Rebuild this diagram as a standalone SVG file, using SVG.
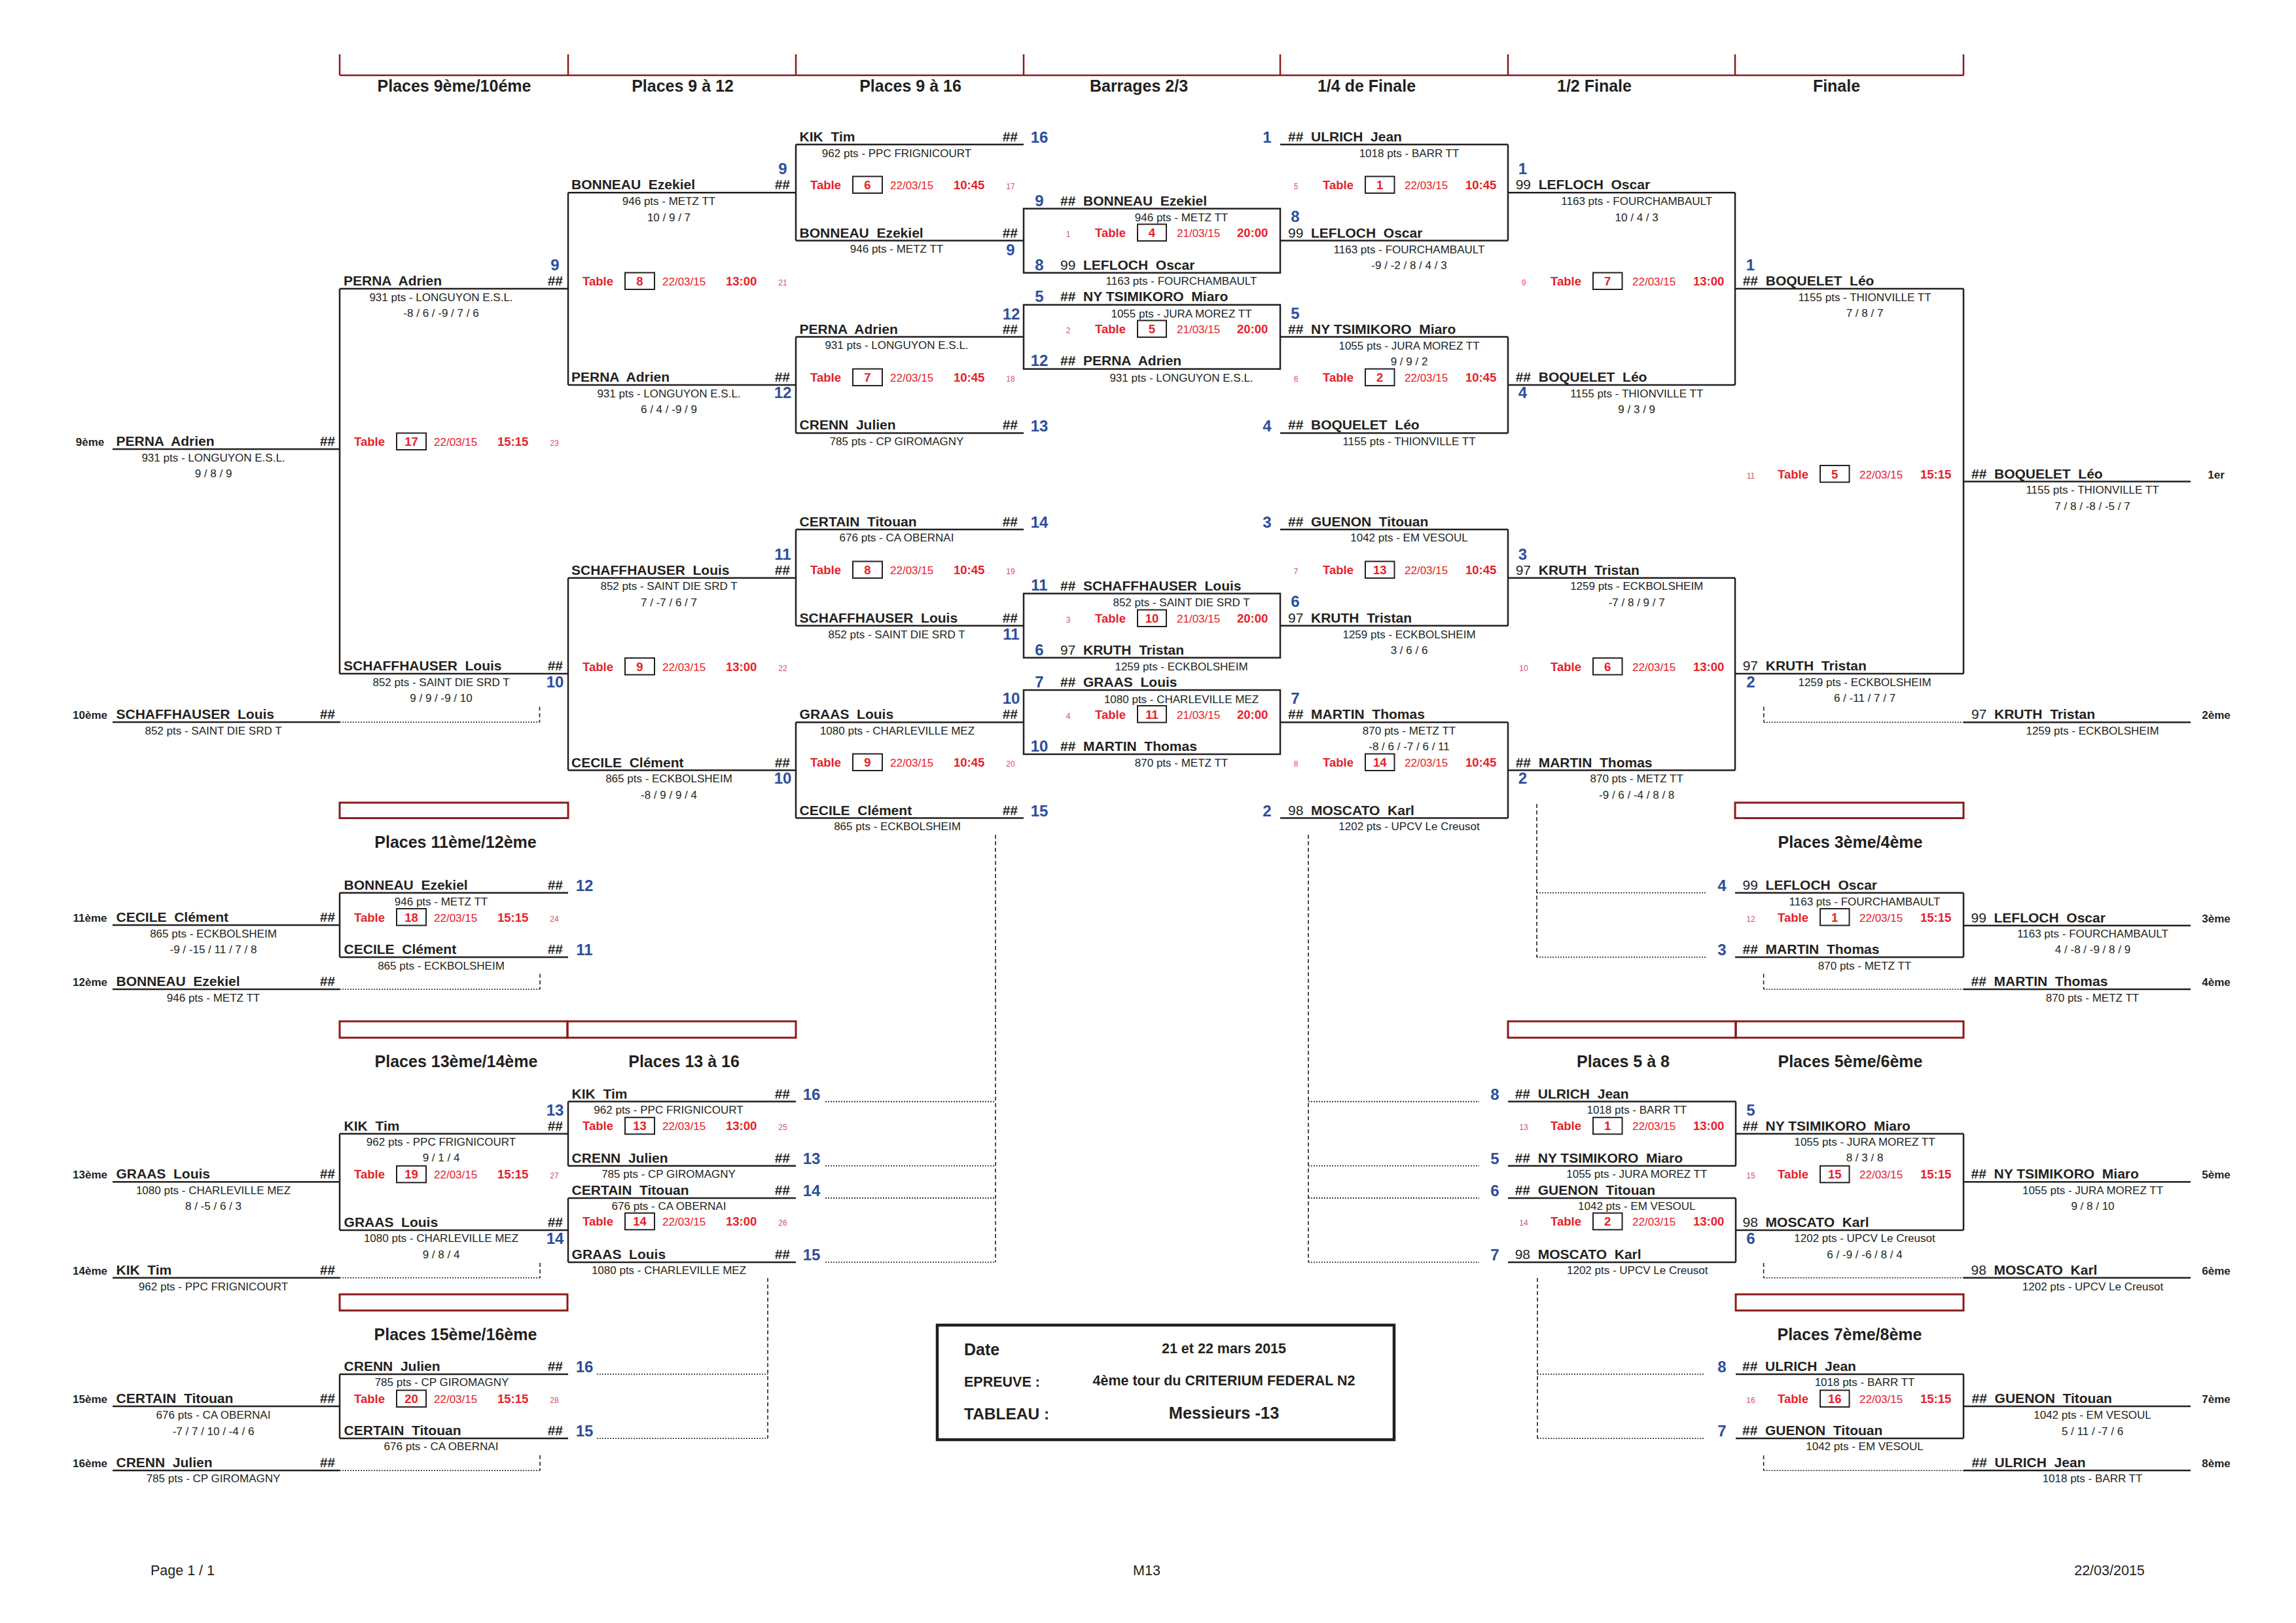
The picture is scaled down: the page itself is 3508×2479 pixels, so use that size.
<svg xmlns="http://www.w3.org/2000/svg" width="3508" height="2479" viewBox="0 0 3508 2479" xml:space="preserve">
<style>
text{font-family:"Liberation Sans",Arial,sans-serif;fill:#231f20;white-space:pre}
.n{font-size:21px;font-weight:bold}
.r{font-weight:normal}
.s{font-size:17px;text-anchor:middle}
.tl{font-size:18.5px;font-weight:bold;fill:#e62129}
.tn{font-size:18.5px;font-weight:bold;fill:#e62129;text-anchor:middle}
.dt{font-size:17px;fill:#e62129}
.hr{font-size:18.5px;font-weight:bold;fill:#e62129}
.mn{font-size:12px;fill:#d4506a;text-anchor:middle}
.bn{font-size:24px;font-weight:bold;fill:#2d4e9c;text-anchor:middle}
.hh{font-size:21px;font-weight:bold;text-anchor:end}
.pl{font-size:17px;font-weight:bold;text-anchor:middle}
.ti{font-size:25px;font-weight:bold;text-anchor:middle}
.ib{font-size:21.5px;font-weight:bold}
.ft{font-size:21.5px}
.ln{stroke:#231f20;stroke-width:2.5;fill:none}
.dot{stroke:#231f20;stroke-width:1.6;stroke-dasharray:2 2;fill:none}
.dsh{stroke:#231f20;stroke-width:1.6;stroke-dasharray:6 4;fill:none}
.rb{stroke:#8b1a1a;stroke-width:3;fill:none}
.hdr{stroke:#8b1a1a;stroke-width:2.5;fill:none}
.tb{stroke:#231f20;stroke-width:2;fill:#fff}
</style>
<rect x="0" y="0" width="3508" height="2479" fill="#fff"/>

<g id="connectors">
<path class="hdr" d="M519 115H3000M519 83V115M868 83V115M1216 83V115M1564 83V115M1956 83V115M2304 83V115M2651 83V115M3000 83V115"/>
<path class="ln" d="M519 441H868M519 1029H868M519 441V1029M172 686H519M172 1103H519
M868 294.2H1216M868 588H1216M868 294.2V588M868 882.7H1216M868 1176.5H1216M868 882.7V1176.5
M1216 220.8H1564M1216 367.6H1564M1216 220.8V367.6M1216 514.5H1564M1216 661.4H1564M1216 514.5V661.4M1216 808.7H1564M1216 955.8H1564M1216 808.7V955.8M1216 1103.3H1564M1216 1249.6H1564M1216 1103.3V1249.6
M1956 220.8H2304M1956 367.6H2304M2304 220.8V367.6M1956 514.5H2304M1956 661.4H2304M2304 514.5V661.4M1956 808.7H2304M1956 955.8H2304M2304 808.7V955.8M1956 1103.3H2304M1956 1249.6H2304M2304 1103.3V1249.6
M2304 294.2H2651M2304 588H2651M2651 294.2V588M2304 882.7H2651M2304 1176.5H2651M2651 882.7V1176.5
M2651 441H3000M2651 1029H3000M3000 441V1029M3000 735.6H3347M3000 1103.3H3347
M519 1363.8H868M519 1462H868M519 1363.8V1462M172 1413H519M172 1511H519
M2651 1363.8H3000M2651 1462H3000M3000 1363.8V1462M3000 1413.8H3347M3000 1511H3347
M868 1682.6H1216M868 1780.8H1216M868 1682.6V1780.8M868 1829.9H1216M868 1928H1216M868 1829.9V1928
M519 1731.7H868M519 1879H868M519 1731.7V1879M172 1805.3H519M172 1951.7H519
M2304 1682.6H2652M2304 1780.8H2652M2652 1682.6V1780.8M2304 1829.9H2652M2304 1928H2652M2652 1829.9V1928
M2652 1731.7H3000M2652 1879H3000M3000 1731.7V1879M3000 1805.3H3347M3000 1951.7H3347
M519 2099H868M519 2197H868M519 2099V2197M172 2148H519M172 2246H519
M2652 2099H3000M2652 2197H3000M3000 2099V2197M3000 2148H3347M3000 2246H3347"/>
<rect class="ln" x="1564" y="318.7" width="392" height="98"/>
<rect class="ln" x="1564" y="465.6" width="392" height="98"/>
<rect class="ln" x="1564" y="906.6" width="392" height="98"/>
<rect class="ln" x="1564" y="1054" width="392" height="98"/>
<path class="dot" d="M519 1103H824.5M2694.8 1103.3H3000M519 1511H825M2694.6 1511H3000
M1261 1682.6H1521M1261 1780.8H1521M1261 1829.9H1521M1261 1928H1521
M1999 1682.6H2260M1999 1780.8H2260M1999 1829.9H2260M1999 1928H2260
M2348 1363.8H2607M2348 1462H2607M519 1951.7H825M2694.6 1951.7H3000
M912 2099H1173M912 2197H1173M2349 2099H2604M2349 2197H2604M519 2246H825M2694.6 2246H3000"/>
<path class="dsh" d="M824.5 1079.6V1103M2694.8 1079.6V1103.3M825 1487.5V1511M2694.6 1487.5V1511
M1521 1275V1928M1999 1275V1928M2348 1228V1462M825 1929V1951.7M2694.6 1929V1951.7
M1173 1952V2197M2349 1952V2197M825 2222.7V2246M2694.6 2223V2246"/>
<rect class="rb" x="519" y="1226" width="349" height="23.6"/>
<rect class="rb" x="2651" y="1226" width="349" height="23.6"/>
<rect class="rb" x="519" y="1560" width="348" height="25"/>
<rect class="rb" x="867" y="1560" width="349" height="25"/>
<rect class="rb" x="2304" y="1560" width="348" height="25"/>
<rect class="rb" x="2652" y="1560" width="348" height="25"/>
<rect class="rb" x="519" y="1977" width="348" height="24.7"/>
<rect class="rb" x="2652" y="1977" width="348" height="24.7"/>
</g>

<g id="titles">
<text class="ti" x="694" y="140">Places 9ème/10éme</text>
<text class="ti" x="1043" y="140">Places 9 à 12</text>
<text class="ti" x="1391" y="140">Places 9 à 16</text>
<text class="ti" x="1740" y="140">Barrages 2/3</text>
<text class="ti" x="2088" y="140">1/4 de Finale</text>
<text class="ti" x="2436" y="140">1/2 Finale</text>
<text class="ti" x="2806" y="140">Finale</text>
<text class="ti" x="696" y="1295">Places 11ème/12ème</text>
<text class="ti" x="2827" y="1295">Places 3ème/4ème</text>
<text class="ti" x="697" y="1630">Places 13ème/14ème</text>
<text class="ti" x="1045" y="1630">Places 13 à 16</text>
<text class="ti" x="2480" y="1630">Places 5 à 8</text>
<text class="ti" x="2827" y="1630">Places 5ème/6ème</text>
<text class="ti" x="696" y="2047">Places 15ème/16ème</text>
<text class="ti" x="2826" y="2047">Places 7ème/8ème</text>
</g>

<g id="a-perna"><text class="n" x="525" y="436">PERNA  Adrien</text><text class="hh" x="860" y="436">##</text><text class="bn" x="848" y="413">9</text><text class="s" x="674" y="459.5">931 pts - LONGUYON E.S.L.</text><text class="s" x="674" y="484">-8 / 6 / -9 / 7 / 6</text></g>
<g id="a-schaff"><text class="n" x="525" y="1024">SCHAFFHAUSER  Louis</text><text class="hh" x="860" y="1024">##</text><text class="bn" x="848" y="1050">10</text><text class="s" x="674" y="1047.5">852 pts - SAINT DIE SRD T</text><text class="s" x="674" y="1072">9 / 9 / -9 / 10</text></g>
<g id="p9"><text class="pl" x="137.5" y="681">9ème</text><text class="n" x="177.5" y="681">PERNA  Adrien</text><text class="hh" x="512" y="681">##</text><text class="s" x="326" y="704.5">931 pts - LONGUYON E.S.L.</text><text class="s" x="326" y="729">9 / 8 / 9</text></g>
<g id="p10"><text class="pl" x="137.5" y="1098">10ème</text><text class="n" x="177.5" y="1098">SCHAFFHAUSER  Louis</text><text class="hh" x="512" y="1098">##</text><text class="s" x="326" y="1121.5">852 pts - SAINT DIE SRD T</text></g>

<g id="b-bonneau"><text class="n" x="873" y="289">BONNEAU  Ezekiel</text><text class="hh" x="1207" y="289">##</text><text class="bn" x="1196" y="266">9</text><text class="s" x="1022" y="312.6">946 pts - METZ TT</text><text class="s" x="1022" y="338">10 / 9 / 7</text></g>
<g id="b-perna"><text class="n" x="873" y="583">PERNA  Adrien</text><text class="hh" x="1207" y="583">##</text><text class="bn" x="1196" y="608">12</text><text class="s" x="1022" y="606.5">931 pts - LONGUYON E.S.L.</text><text class="s" x="1022" y="631">6 / 4 / -9 / 9</text></g>
<g id="b-schaff"><text class="bn" x="1196" y="855">11</text><text class="n" x="873" y="877.7">SCHAFFHAUSER  Louis</text><text class="hh" x="1207" y="877.7">##</text><text class="s" x="1022" y="901">852 pts - SAINT DIE SRD T</text><text class="s" x="1022" y="926">7 / -7 / 6 / 7</text></g>
<g id="b-cecile"><text class="n" x="873" y="1171.5">CECILE  Clément</text><text class="hh" x="1207" y="1171.5">##</text><text class="bn" x="1196" y="1197">10</text><text class="s" x="1022" y="1195">865 pts - ECKBOLSHEIM</text><text class="s" x="1022" y="1220">-8 / 9 / 9 / 4</text></g>

<g id="c-kik"><text class="n" x="1221.6" y="215.8">KIK  Tim</text><text class="hh" x="1555" y="215.8">##</text><text class="bn" x="1588" y="218">16</text><text class="s" x="1370" y="239.5">962 pts - PPC FRIGNICOURT</text></g>
<g id="c-bonneau"><text class="n" x="1221.6" y="362.6">BONNEAU  Ezekiel</text><text class="hh" x="1555" y="362.6">##</text><text class="bn" x="1544" y="390">9</text><text class="s" x="1370" y="386.2">946 pts - METZ TT</text></g>
<g id="c-perna"><text class="bn" x="1545" y="488">12</text><text class="n" x="1221.6" y="509.5">PERNA  Adrien</text><text class="hh" x="1555" y="509.5">##</text><text class="s" x="1370" y="533.3">931 pts - LONGUYON E.S.L.</text></g>
<g id="c-crenn"><text class="n" x="1221.6" y="656.4">CRENN  Julien</text><text class="hh" x="1555" y="656.4">##</text><text class="bn" x="1588" y="658.5">13</text><text class="s" x="1370" y="680.2">785 pts - CP GIROMAGNY</text></g>
<g id="c-certain"><text class="n" x="1221.6" y="803.7">CERTAIN  Titouan</text><text class="hh" x="1555" y="803.7">##</text><text class="bn" x="1588" y="805.7">14</text><text class="s" x="1370" y="827.3">676 pts - CA OBERNAI</text></g>
<g id="c-schaff"><text class="n" x="1221.6" y="950.8">SCHAFFHAUSER  Louis</text><text class="hh" x="1555" y="950.8">##</text><text class="bn" x="1545" y="977">11</text><text class="s" x="1370" y="974.5">852 pts - SAINT DIE SRD T</text></g>
<g id="c-graas"><text class="bn" x="1545" y="1075">10</text><text class="n" x="1221.6" y="1098.3">GRAAS  Louis</text><text class="hh" x="1555" y="1098.3">##</text><text class="s" x="1371" y="1121.5">1080 pts - CHARLEVILLE MEZ</text></g>
<g id="c-cecile"><text class="n" x="1221.6" y="1244.6">CECILE  Clément</text><text class="hh" x="1555" y="1244.6">##</text><text class="bn" x="1588" y="1246.6">15</text><text class="s" x="1371" y="1268">865 pts - ECKBOLSHEIM</text></g>

<g id="d-box1"><text class="bn" x="1588" y="314.6">9</text><text class="n" x="1620" y="313.6">##  BONNEAU  Ezekiel</text><text class="s" x="1805" y="338">946 pts - METZ TT</text><text class="bn" x="1588" y="412.5">8</text><text class="n" x="1620" y="411.6"><tspan class="r">99</tspan>  LEFLOCH  Oscar</text><text class="s" x="1805" y="435.2">1163 pts - FOURCHAMBAULT</text></g>
<g id="d-box2"><text class="bn" x="1588" y="460.5">5</text><text class="n" x="1620" y="460">##  NY TSIMIKORO  Miaro</text><text class="s" x="1805" y="485">1055 pts - JURA MOREZ TT</text><text class="bn" x="1588" y="558.5">12</text><text class="n" x="1620" y="558">##  PERNA  Adrien</text><text class="s" x="1805" y="582.7">931 pts - LONGUYON E.S.L.</text></g>
<g id="d-box3"><text class="bn" x="1588" y="902.4">11</text><text class="n" x="1620" y="901.6">##  SCHAFFHAUSER  Louis</text><text class="s" x="1805" y="926">852 pts - SAINT DIE SRD T</text><text class="bn" x="1588" y="1000.5">6</text><text class="n" x="1620" y="1000"><tspan class="r">97</tspan>  KRUTH  Tristan</text><text class="s" x="1805" y="1023.5">1259 pts - ECKBOLSHEIM</text></g>
<g id="d-box4"><text class="bn" x="1588" y="1050">7</text><text class="n" x="1620" y="1049">##  GRAAS  Louis</text><text class="s" x="1805" y="1073.7">1080 pts - CHARLEVILLE MEZ</text><text class="bn" x="1588" y="1147.5">10</text><text class="n" x="1620" y="1147">##  MARTIN  Thomas</text><text class="s" x="1805" y="1170.5">870 pts - METZ TT</text></g>

<g id="e-ulrich"><text class="bn" x="1936" y="218">1</text><text class="n" x="1968" y="215.8">##  ULRICH  Jean</text><text class="s" x="2153" y="239.5">1018 pts - BARR TT</text></g>
<g id="e-lefloch"><text class="bn" x="1979" y="339">8</text><text class="n" x="1968" y="362.6"><tspan class="r">99</tspan>  LEFLOCH  Oscar</text><text class="s" x="2153" y="386.5">1163 pts - FOURCHAMBAULT</text><text class="s" x="2153" y="410.8">-9 / -2 / 8 / 4 / 3</text></g>
<g id="e-ny"><text class="bn" x="1979" y="487">5</text><text class="n" x="1968" y="509.5">##  NY TSIMIKORO  Miaro</text><text class="s" x="2153" y="533.5">1055 pts - JURA MOREZ TT</text><text class="s" x="2153" y="557.5">9 / 9 / 2</text></g>
<g id="e-boquelet"><text class="bn" x="1936" y="658.5">4</text><text class="n" x="1968" y="656.4">##  BOQUELET  Léo</text><text class="s" x="2153" y="680.2">1155 pts - THIONVILLE TT</text></g>
<g id="e-guenon"><text class="bn" x="1936" y="805.7">3</text><text class="n" x="1968" y="803.7">##  GUENON  Titouan</text><text class="s" x="2153" y="827.3">1042 pts - EM VESOUL</text></g>
<g id="e-kruth"><text class="bn" x="1979" y="927.4">6</text><text class="n" x="1968" y="950.8"><tspan class="r">97</tspan>  KRUTH  Tristan</text><text class="s" x="2153" y="974.5">1259 pts - ECKBOLSHEIM</text><text class="s" x="2153" y="999">3 / 6 / 6</text></g>
<g id="e-martin"><text class="bn" x="1979" y="1075">7</text><text class="n" x="1968" y="1098.3">##  MARTIN  Thomas</text><text class="s" x="2153" y="1121.5">870 pts - METZ TT</text><text class="s" x="2153" y="1146">-8 / 6 / -7 / 6 / 11</text></g>
<g id="e-moscato"><text class="bn" x="1936" y="1246.6">2</text><text class="n" x="1968" y="1244.6"><tspan class="r">98</tspan>  MOSCATO  Karl</text><text class="s" x="2153" y="1268">1202 pts - UPCV Le Creusot</text></g>

<g id="f-lefloch"><text class="bn" x="2326.5" y="266">1</text><text class="n" x="2315.7" y="289.2"><tspan class="r">99</tspan>  LEFLOCH  Oscar</text><text class="s" x="2500.7" y="312.6">1163 pts - FOURCHAMBAULT</text><text class="s" x="2500.7" y="338">10 / 4 / 3</text></g>
<g id="f-boquelet"><text class="n" x="2315.7" y="583">##  BOQUELET  Léo</text><text class="bn" x="2326.5" y="608">4</text><text class="s" x="2500.7" y="606.5">1155 pts - THIONVILLE TT</text><text class="s" x="2500.7" y="631">9 / 3 / 9</text></g>
<g id="f-kruth"><text class="bn" x="2326.5" y="855">3</text><text class="n" x="2315.7" y="877.7"><tspan class="r">97</tspan>  KRUTH  Tristan</text><text class="s" x="2500.7" y="901">1259 pts - ECKBOLSHEIM</text><text class="s" x="2500.7" y="926">-7 / 8 / 9 / 7</text></g>
<g id="f-martin"><text class="n" x="2315.7" y="1171.5">##  MARTIN  Thomas</text><text class="bn" x="2326.5" y="1197">2</text><text class="s" x="2500.7" y="1195">870 pts - METZ TT</text><text class="s" x="2500.7" y="1219.5">-9 / 6 / -4 / 8 / 8</text></g>

<g id="g-boquelet"><text class="bn" x="2674.5" y="413">1</text><text class="n" x="2662.7" y="436">##  BOQUELET  Léo</text><text class="s" x="2849" y="459.5">1155 pts - THIONVILLE TT</text><text class="s" x="2849" y="484">7 / 8 / 7</text></g>
<g id="g-kruth"><text class="n" x="2662.7" y="1024"><tspan class="r">97</tspan>  KRUTH  Tristan</text><text class="bn" x="2675" y="1050">2</text><text class="s" x="2849" y="1047.5">1259 pts - ECKBOLSHEIM</text><text class="s" x="2849" y="1072">6 / -11 / 7 / 7</text></g>
<g id="p1"><text class="n" x="3012" y="730.6">##  BOQUELET  Léo</text><text class="pl" x="3386" y="730.6">1er</text><text class="s" x="3197" y="754">1155 pts - THIONVILLE TT</text><text class="s" x="3197" y="778.5">7 / 8 / -8 / -5 / 7</text></g>
<g id="p2"><text class="n" x="3012" y="1098.3"><tspan class="r">97</tspan>  KRUTH  Tristan</text><text class="pl" x="3386" y="1098.3">2ème</text><text class="s" x="3197" y="1121.5">1259 pts - ECKBOLSHEIM</text></g>

<g id="q11-bonneau"><text class="n" x="525.6" y="1358.8">BONNEAU  Ezekiel</text><text class="hh" x="860" y="1358.8">##</text><text class="bn" x="893" y="1361">12</text><text class="s" x="674" y="1382.5">946 pts - METZ TT</text></g>
<g id="q11-cecile"><text class="n" x="525.6" y="1457">CECILE  Clément</text><text class="hh" x="860" y="1457">##</text><text class="bn" x="893" y="1459">11</text><text class="s" x="674" y="1480.8">865 pts - ECKBOLSHEIM</text></g>
<g id="p11"><text class="pl" x="137.5" y="1408">11ème</text><text class="n" x="177.5" y="1408">CECILE  Clément</text><text class="hh" x="512" y="1408">##</text><text class="s" x="326" y="1431.7">865 pts - ECKBOLSHEIM</text><text class="s" x="326" y="1456">-9 / -15 / 11 / 7 / 8</text></g>
<g id="p12"><text class="pl" x="137.5" y="1506">12ème</text><text class="n" x="177.5" y="1506">BONNEAU  Ezekiel</text><text class="hh" x="512" y="1506">##</text><text class="s" x="326" y="1530">946 pts - METZ TT</text></g>

<g id="q3-lefloch"><text class="bn" x="2631" y="1361">4</text><text class="n" x="2662.6" y="1358.8"><tspan class="r">99</tspan>  LEFLOCH  Oscar</text><text class="s" x="2849" y="1382.5">1163 pts - FOURCHAMBAULT</text></g>
<g id="q3-martin"><text class="bn" x="2631" y="1459">3</text><text class="n" x="2662.6" y="1457">##  MARTIN  Thomas</text><text class="s" x="2849" y="1480.8">870 pts - METZ TT</text></g>
<g id="p3"><text class="n" x="3011.5" y="1408.8"><tspan class="r">99</tspan>  LEFLOCH  Oscar</text><text class="pl" x="3386" y="1408.8">3ème</text><text class="s" x="3197.5" y="1431.7">1163 pts - FOURCHAMBAULT</text><text class="s" x="3197.5" y="1456">4 / -8 / -9 / 8 / 9</text></g>
<g id="p4"><text class="n" x="3011.5" y="1506">##  MARTIN  Thomas</text><text class="pl" x="3386" y="1506">4ème</text><text class="s" x="3197" y="1530">870 pts - METZ TT</text></g>

<g id="r13-kik"><text class="n" x="873.6" y="1677.6">KIK  Tim</text><text class="hh" x="1207" y="1677.6">##</text><text class="bn" x="1240" y="1679.5">16</text><text class="s" x="1021.5" y="1700.5">962 pts - PPC FRIGNICOURT</text></g>
<g id="r13-crenn"><text class="n" x="873.6" y="1775.8">CRENN  Julien</text><text class="hh" x="1207" y="1775.8">##</text><text class="bn" x="1240" y="1777.8">13</text><text class="s" x="1021.5" y="1798.6">785 pts - CP GIROMAGNY</text></g>
<g id="r13-certain"><text class="n" x="873.6" y="1824.9">CERTAIN  Titouan</text><text class="hh" x="1207" y="1824.9">##</text><text class="bn" x="1240" y="1827">14</text><text class="s" x="1022" y="1847.7">676 pts - CA OBERNAI</text></g>
<g id="r13-graas"><text class="n" x="873.6" y="1923">GRAAS  Louis</text><text class="hh" x="1207" y="1923">##</text><text class="bn" x="1240" y="1925">15</text><text class="s" x="1022" y="1946">1080 pts - CHARLEVILLE MEZ</text></g>
<g id="q13-kik"><text class="bn" x="848" y="1704">13</text><text class="n" x="525.6" y="1726.7">KIK  Tim</text><text class="hh" x="860" y="1726.7">##</text><text class="s" x="674" y="1749.5">962 pts - PPC FRIGNICOURT</text><text class="s" x="674" y="1774">9 / 1 / 4</text></g>
<g id="q13-graas"><text class="n" x="525.6" y="1874">GRAAS  Louis</text><text class="hh" x="860" y="1874">##</text><text class="bn" x="848" y="1900.4">14</text><text class="s" x="674" y="1897">1080 pts - CHARLEVILLE MEZ</text><text class="s" x="674" y="1921.5">9 / 8 / 4</text></g>
<g id="p13"><text class="pl" x="137.5" y="1800.3">13ème</text><text class="n" x="177.5" y="1800.3">GRAAS  Louis</text><text class="hh" x="512" y="1800.3">##</text><text class="s" x="326" y="1823.5">1080 pts - CHARLEVILLE MEZ</text><text class="s" x="326" y="1848">8 / -5 / 6 / 3</text></g>
<g id="p14"><text class="pl" x="137.5" y="1946.7">14ème</text><text class="n" x="177.5" y="1946.7">KIK  Tim</text><text class="hh" x="512" y="1946.7">##</text><text class="s" x="326" y="1970.5">962 pts - PPC FRIGNICOURT</text></g>

<g id="r5-ulrich"><text class="bn" x="2284" y="1679.5">8</text><text class="n" x="2314.7" y="1677.6">##  ULRICH  Jean</text><text class="s" x="2500.8" y="1700.5">1018 pts - BARR TT</text></g>
<g id="r5-ny"><text class="bn" x="2284" y="1777.8">5</text><text class="n" x="2314.7" y="1775.8">##  NY TSIMIKORO  Miaro</text><text class="s" x="2500.8" y="1798.6">1055 pts - JURA MOREZ TT</text></g>
<g id="r5-guenon"><text class="bn" x="2284" y="1827">6</text><text class="n" x="2314.7" y="1824.9">##  GUENON  Titouan</text><text class="s" x="2500.8" y="1847.7">1042 pts - EM VESOUL</text></g>
<g id="r5-moscato"><text class="bn" x="2284" y="1925">7</text><text class="n" x="2314.7" y="1923"><tspan class="r">98</tspan>  MOSCATO  Karl</text><text class="s" x="2501.7" y="1946">1202 pts - UPCV Le Creusot</text></g>
<g id="q5-ny"><text class="bn" x="2675" y="1704">5</text><text class="n" x="2662.6" y="1726.7">##  NY TSIMIKORO  Miaro</text><text class="s" x="2849" y="1749.5">1055 pts - JURA MOREZ TT</text><text class="s" x="2849" y="1774">8 / 3 / 8</text></g>
<g id="q5-moscato"><text class="n" x="2662.6" y="1874"><tspan class="r">98</tspan>  MOSCATO  Karl</text><text class="bn" x="2675" y="1900.4">6</text><text class="s" x="2849" y="1897">1202 pts - UPCV Le Creusot</text><text class="s" x="2849" y="1921.5">6 / -9 / -6 / 8 / 4</text></g>
<g id="p5"><text class="n" x="3011.5" y="1800.3">##  NY TSIMIKORO  Miaro</text><text class="pl" x="3386" y="1800.3">5ème</text><text class="s" x="3197.5" y="1823.5">1055 pts - JURA MOREZ TT</text><text class="s" x="3197.5" y="1848">9 / 8 / 10</text></g>
<g id="p6"><text class="n" x="3011.5" y="1946.7"><tspan class="r">98</tspan>  MOSCATO  Karl</text><text class="pl" x="3386" y="1946.7">6ème</text><text class="s" x="3197.5" y="1970.5">1202 pts - UPCV Le Creusot</text></g>

<g id="q15-crenn"><text class="n" x="525.6" y="2094">CRENN  Julien</text><text class="hh" x="860" y="2094">##</text><text class="bn" x="893" y="2096">16</text><text class="s" x="675" y="2117">785 pts - CP GIROMAGNY</text></g>
<g id="q15-certain"><text class="n" x="525.6" y="2192">CERTAIN  Titouan</text><text class="hh" x="860" y="2192">##</text><text class="bn" x="893" y="2194">15</text><text class="s" x="674" y="2215">676 pts - CA OBERNAI</text></g>
<g id="p15"><text class="pl" x="137.5" y="2143">15ème</text><text class="n" x="177.5" y="2143">CERTAIN  Titouan</text><text class="hh" x="512" y="2143">##</text><text class="s" x="326" y="2167">676 pts - CA OBERNAI</text><text class="s" x="326" y="2191.7">-7 / 7 / 10 / -4 / 6</text></g>
<g id="p16"><text class="pl" x="137.5" y="2241">16ème</text><text class="n" x="177.5" y="2241">CRENN  Julien</text><text class="hh" x="512" y="2241">##</text><text class="s" x="326" y="2264">785 pts - CP GIROMAGNY</text></g>

<g id="q7-ulrich"><text class="bn" x="2631" y="2096">8</text><text class="n" x="2662" y="2094">##  ULRICH  Jean</text><text class="s" x="2849" y="2117">1018 pts - BARR TT</text></g>
<g id="q7-guenon"><text class="bn" x="2631" y="2194">7</text><text class="n" x="2662" y="2192">##  GUENON  Titouan</text><text class="s" x="2849" y="2215">1042 pts - EM VESOUL</text></g>
<g id="p7"><text class="n" x="3012.6" y="2143">##  GUENON  Titouan</text><text class="pl" x="3386" y="2143">7ème</text><text class="s" x="3197" y="2167">1042 pts - EM VESOUL</text><text class="s" x="3197" y="2191.7">5 / 11 / -7 / 6</text></g>
<g id="p8"><text class="n" x="3012.6" y="2241">##  ULRICH  Jean</text><text class="pl" x="3386" y="2241">8ème</text><text class="s" x="3197" y="2264">1018 pts - BARR TT</text></g>

<g id="m23"><text class="tl" x="541" y="681">Table</text><rect class="tb" x="606" y="661.5" width="45" height="25.5"/><text class="tn" x="628.5" y="681">17</text><text class="dt" x="663" y="681">22/03/15</text><text class="hr" x="760" y="681">15:15</text><text class="mn" x="847" y="681">23</text></g>
<g id="m21"><text class="tl" x="890" y="436">Table</text><rect class="tb" x="955" y="416.5" width="45" height="25.5"/><text class="tn" x="977.5" y="436">8</text><text class="dt" x="1012" y="436">22/03/15</text><text class="hr" x="1109" y="436">13:00</text><text class="mn" x="1196" y="436">21</text></g>
<g id="m22"><text class="tl" x="890" y="1024.6">Table</text><rect class="tb" x="955" y="1005.1" width="45" height="25.5"/><text class="tn" x="977.5" y="1024.6">9</text><text class="dt" x="1012" y="1024.6">22/03/15</text><text class="hr" x="1109" y="1024.6">13:00</text><text class="mn" x="1196" y="1024.6">22</text></g>
<g id="m17"><text class="tl" x="1238" y="289">Table</text><rect class="tb" x="1303" y="269.5" width="45" height="25.5"/><text class="tn" x="1325.5" y="289">6</text><text class="dt" x="1360" y="289">22/03/15</text><text class="hr" x="1457" y="289">10:45</text><text class="mn" x="1544" y="289">17</text></g>
<g id="m18"><text class="tl" x="1238" y="583">Table</text><rect class="tb" x="1303" y="563.5" width="45" height="25.5"/><text class="tn" x="1325.5" y="583">7</text><text class="dt" x="1360" y="583">22/03/15</text><text class="hr" x="1457" y="583">10:45</text><text class="mn" x="1544" y="583">18</text></g>
<g id="m19"><text class="tl" x="1238" y="877">Table</text><rect class="tb" x="1303" y="857.5" width="45" height="25.5"/><text class="tn" x="1325.5" y="877">8</text><text class="dt" x="1360" y="877">22/03/15</text><text class="hr" x="1457" y="877">10:45</text><text class="mn" x="1544" y="877">19</text></g>
<g id="m20"><text class="tl" x="1238" y="1171">Table</text><rect class="tb" x="1303" y="1151.5" width="45" height="25.5"/><text class="tn" x="1325.5" y="1171">9</text><text class="dt" x="1360" y="1171">22/03/15</text><text class="hr" x="1457" y="1171">10:45</text><text class="mn" x="1544" y="1171">20</text></g>
<g id="m1"><text class="mn" x="1632" y="362">1</text><text class="tl" x="1673" y="362">Table</text><rect class="tb" x="1738" y="342.5" width="44" height="25.5"/><text class="tn" x="1760" y="362">4</text><text class="dt" x="1798" y="362">21/03/15</text><text class="hr" x="1890" y="362">20:00</text></g>
<g id="m2"><text class="mn" x="1632" y="509">2</text><text class="tl" x="1673" y="509">Table</text><rect class="tb" x="1738" y="489.5" width="44" height="25.5"/><text class="tn" x="1760" y="509">5</text><text class="dt" x="1798" y="509">21/03/15</text><text class="hr" x="1890" y="509">20:00</text></g>
<g id="m3"><text class="mn" x="1632" y="951">3</text><text class="tl" x="1673" y="951">Table</text><rect class="tb" x="1738" y="931.5" width="44" height="25.5"/><text class="tn" x="1760" y="951">10</text><text class="dt" x="1798" y="951">21/03/15</text><text class="hr" x="1890" y="951">20:00</text></g>
<g id="m4"><text class="mn" x="1632" y="1097.5">4</text><text class="tl" x="1673" y="1097.5">Table</text><rect class="tb" x="1738" y="1078" width="44" height="25.5"/><text class="tn" x="1760" y="1097.5">11</text><text class="dt" x="1798" y="1097.5">21/03/15</text><text class="hr" x="1890" y="1097.5">20:00</text></g>
<g id="m5"><text class="mn" x="1980" y="289">5</text><text class="tl" x="2021" y="289">Table</text><rect class="tb" x="2086" y="269.5" width="44.5" height="25.5"/><text class="tn" x="2108.2" y="289">1</text><text class="dt" x="2146" y="289">22/03/15</text><text class="hr" x="2239" y="289">10:45</text></g>
<g id="m6"><text class="mn" x="1980" y="583">6</text><text class="tl" x="2021" y="583">Table</text><rect class="tb" x="2086" y="563.5" width="44.5" height="25.5"/><text class="tn" x="2108.2" y="583">2</text><text class="dt" x="2146" y="583">22/03/15</text><text class="hr" x="2239" y="583">10:45</text></g>
<g id="m7"><text class="mn" x="1980" y="877">7</text><text class="tl" x="2021" y="877">Table</text><rect class="tb" x="2086" y="857.5" width="44.5" height="25.5"/><text class="tn" x="2108.2" y="877">13</text><text class="dt" x="2146" y="877">22/03/15</text><text class="hr" x="2239" y="877">10:45</text></g>
<g id="m8"><text class="mn" x="1980" y="1171">8</text><text class="tl" x="2021" y="1171">Table</text><rect class="tb" x="2086" y="1151.5" width="44.5" height="25.5"/><text class="tn" x="2108.2" y="1171">14</text><text class="dt" x="2146" y="1171">22/03/15</text><text class="hr" x="2239" y="1171">10:45</text></g>
<g id="m9"><text class="mn" x="2328" y="436">9</text><text class="tl" x="2369" y="436">Table</text><rect class="tb" x="2434" y="416.5" width="44.5" height="25.5"/><text class="tn" x="2456.2" y="436">7</text><text class="dt" x="2494" y="436">22/03/15</text><text class="hr" x="2587" y="436">13:00</text></g>
<g id="m10"><text class="mn" x="2328" y="1024.6">10</text><text class="tl" x="2369" y="1024.6">Table</text><rect class="tb" x="2434" y="1005.1" width="44.5" height="25.5"/><text class="tn" x="2456.2" y="1024.6">6</text><text class="dt" x="2494" y="1024.6">22/03/15</text><text class="hr" x="2587" y="1024.6">13:00</text></g>
<g id="m11"><text class="mn" x="2675" y="730.6">11</text><text class="tl" x="2716" y="730.6">Table</text><rect class="tb" x="2781" y="711" width="44.5" height="25.5"/><text class="tn" x="2803.2" y="730.6">5</text><text class="dt" x="2841" y="730.6">22/03/15</text><text class="hr" x="2934" y="730.6">15:15</text></g>
<g id="m24"><text class="tl" x="541" y="1407.5">Table</text><rect class="tb" x="606" y="1388" width="45" height="25.5"/><text class="tn" x="628.5" y="1407.5">18</text><text class="dt" x="663" y="1407.5">22/03/15</text><text class="hr" x="760" y="1407.5">15:15</text><text class="mn" x="847" y="1407.5">24</text></g>
<g id="m12"><text class="mn" x="2675" y="1407.5">12</text><text class="tl" x="2716" y="1407.5">Table</text><rect class="tb" x="2781" y="1388" width="44.5" height="25.5"/><text class="tn" x="2803.2" y="1407.5">1</text><text class="dt" x="2841" y="1407.5">22/03/15</text><text class="hr" x="2934" y="1407.5">15:15</text></g>
<g id="m25"><text class="tl" x="890" y="1726.3">Table</text><rect class="tb" x="955" y="1706.8" width="45" height="25.5"/><text class="tn" x="977.5" y="1726.3">13</text><text class="dt" x="1012" y="1726.3">22/03/15</text><text class="hr" x="1109" y="1726.3">13:00</text><text class="mn" x="1196" y="1726.3">25</text></g>
<g id="m26"><text class="tl" x="890" y="1872.3">Table</text><rect class="tb" x="955" y="1852.8" width="45" height="25.5"/><text class="tn" x="977.5" y="1872.3">14</text><text class="dt" x="1012" y="1872.3">22/03/15</text><text class="hr" x="1109" y="1872.3">13:00</text><text class="mn" x="1196" y="1872.3">26</text></g>
<g id="m27"><text class="tl" x="541" y="1800.3">Table</text><rect class="tb" x="606" y="1780.8" width="45" height="25.5"/><text class="tn" x="628.5" y="1800.3">19</text><text class="dt" x="663" y="1800.3">22/03/15</text><text class="hr" x="760" y="1800.3">15:15</text><text class="mn" x="847" y="1800.3">27</text></g>
<g id="m13"><text class="mn" x="2328" y="1726.3">13</text><text class="tl" x="2369" y="1726.3">Table</text><rect class="tb" x="2434" y="1706.8" width="44.5" height="25.5"/><text class="tn" x="2456.2" y="1726.3">1</text><text class="dt" x="2494" y="1726.3">22/03/15</text><text class="hr" x="2587" y="1726.3">13:00</text></g>
<g id="m14"><text class="mn" x="2328" y="1872.3">14</text><text class="tl" x="2369" y="1872.3">Table</text><rect class="tb" x="2434" y="1852.8" width="44.5" height="25.5"/><text class="tn" x="2456.2" y="1872.3">2</text><text class="dt" x="2494" y="1872.3">22/03/15</text><text class="hr" x="2587" y="1872.3">13:00</text></g>
<g id="m15"><text class="mn" x="2675" y="1800.3">15</text><text class="tl" x="2716" y="1800.3">Table</text><rect class="tb" x="2781" y="1780.8" width="44.5" height="25.5"/><text class="tn" x="2803.2" y="1800.3">15</text><text class="dt" x="2841" y="1800.3">22/03/15</text><text class="hr" x="2934" y="1800.3">15:15</text></g>
<g id="m28"><text class="tl" x="541" y="2143">Table</text><rect class="tb" x="606" y="2123.5" width="45" height="25.5"/><text class="tn" x="628.5" y="2143">20</text><text class="dt" x="663" y="2143">22/03/15</text><text class="hr" x="760" y="2143">15:15</text><text class="mn" x="847" y="2143">28</text></g>
<g id="m16"><text class="mn" x="2675" y="2143">16</text><text class="tl" x="2716" y="2143">Table</text><rect class="tb" x="2781" y="2123.5" width="44.5" height="25.5"/><text class="tn" x="2803.2" y="2143">16</text><text class="dt" x="2841" y="2143">22/03/15</text><text class="hr" x="2934" y="2143">15:15</text></g>

<g id="info">
<rect x="1432" y="2024" width="698" height="175" fill="none" stroke="#231f20" stroke-width="4.5"/>
<text class="ib" x="1473" y="2070" style="font-size:25px">Date</text>
<text class="ib" x="1870" y="2067" text-anchor="middle">21 et 22 mars 2015</text>
<text class="ib" x="1473" y="2118">EPREUVE :</text>
<text class="ib" x="1870" y="2116" text-anchor="middle">4ème tour du CRITERIUM FEDERAL N2</text>
<text class="ib" x="1473" y="2168" style="font-size:24.5px">TABLEAU :</text>
<text class="ib" x="1870" y="2167" text-anchor="middle" style="font-size:25.5px">Messieurs -13</text>
</g>
<g id="footer">
<text class="ft" x="230" y="2405.7">Page 1 / 1</text>
<text class="ft" x="1752" y="2405.7" text-anchor="middle">M13</text>
<text class="ft" x="3223" y="2405.7" text-anchor="middle">22/03/2015</text>
</g>
</svg>
